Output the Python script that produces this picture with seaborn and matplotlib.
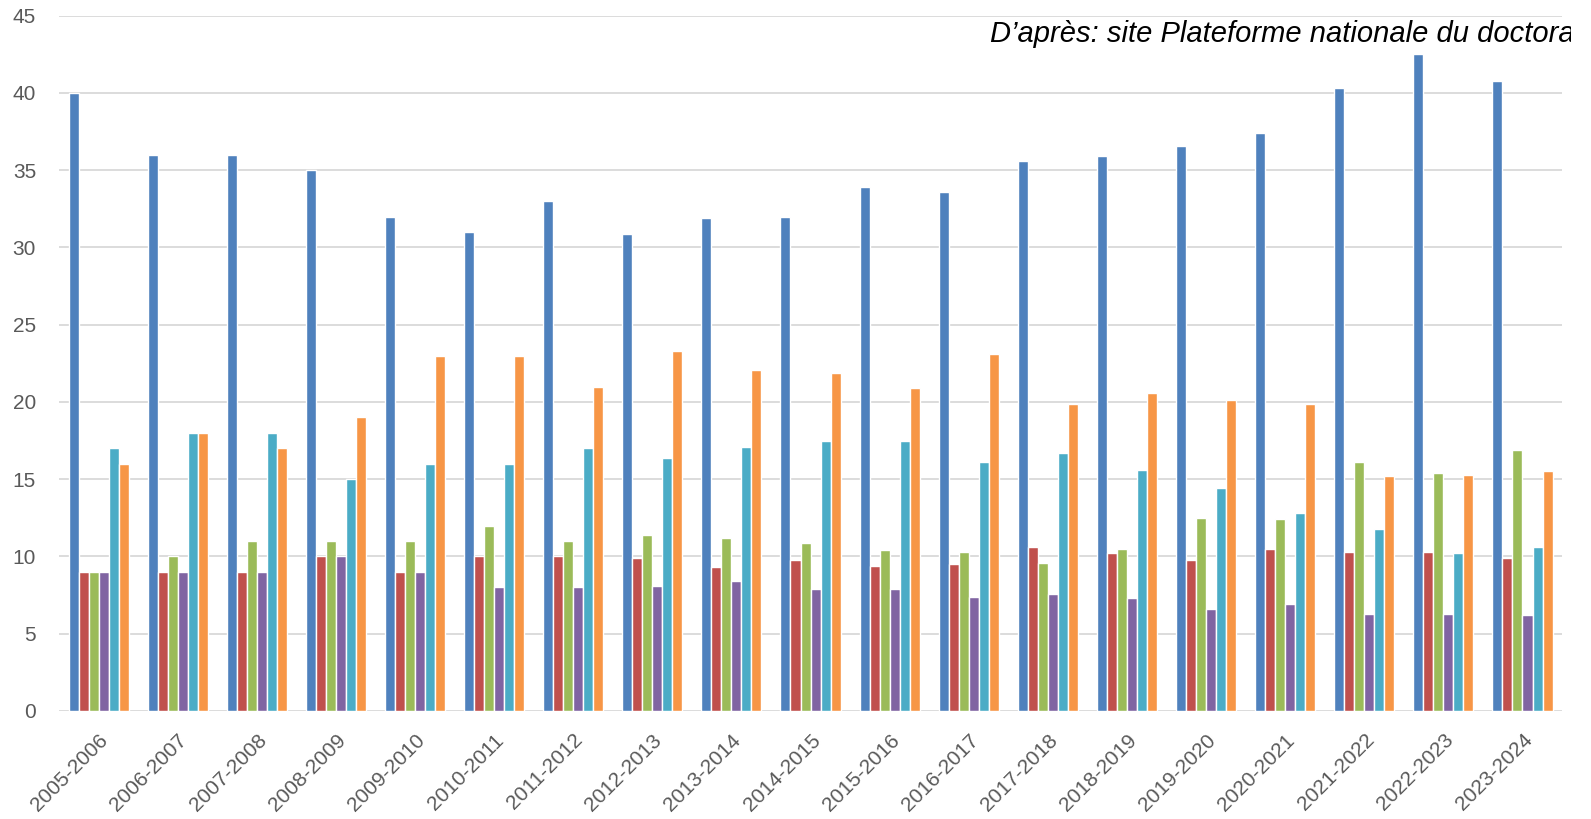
import matplotlib
matplotlib.use("Agg")
import matplotlib.pyplot as plt
from matplotlib.transforms import Bbox
import seaborn as sns
import pandas as pd

# Années universitaires
annees = ["2005-2006", "2006-2007", "2007-2008", "2008-2009", "2009-2010",
          "2010-2011", "2011-2012", "2012-2013", "2013-2014", "2014-2015",
          "2015-2016", "2016-2017", "2017-2018", "2018-2019", "2019-2020",
          "2020-2021", "2021-2022", "2022-2023", "2023-2024"]

serie_1 = [40, 36, 36, 35, 32, 31, 33, 30.9, 31.9, 32, 33.9, 33.6, 35.6, 35.9, 36.6, 37.4, 40.3, 42.5, 40.8]
serie_2 = [9, 9, 9, 10, 9, 10, 10, 9.9, 9.3, 9.8, 9.4, 9.5, 10.6, 10.2, 9.8, 10.5, 10.3, 10.3, 9.9]
serie_3 = [9, 10, 11, 11, 11, 12, 11, 11.4, 11.2, 10.9, 10.4, 10.3, 9.6, 10.5, 12.5, 12.4, 16.1, 15.4, 16.9]
serie_4 = [9, 9, 9, 10, 9, 8, 8, 8.1, 8.4, 7.9, 7.9, 7.4, 7.6, 7.3, 6.6, 6.9, 6.3, 6.3, 6.2]
serie_5 = [17, 18, 18, 15, 16, 16, 17, 16.4, 17.1, 17.5, 17.5, 16.1, 16.7, 15.6, 14.4, 12.8, 11.8, 10.2, 10.6]
serie_6 = [16, 18, 17, 19, 23, 23, 21, 23.3, 22.1, 21.9, 20.9, 23.1, 19.9, 20.6, 20.1, 19.9, 15.2, 15.3, 15.5]

noms_series = ["Série 1", "Série 2", "Série 3", "Série 4", "Série 5", "Série 6"]
couleurs = ["#4F81BD", "#C0504D", "#9BBB59", "#8064A2", "#4BACC6", "#F79646"]

source = "D\u2019après: site Plateforme nationale du doctorat"

# Mise en forme longue pour seaborn
series = [serie_1, serie_2, serie_3, serie_4, serie_5, serie_6]
rows = []
for nom, valeurs in zip(noms_series, series):
    for annee, v in zip(annees, valeurs):
        rows.append({"annee": annee, "valeur": v, "serie": nom})
df = pd.DataFrame(rows)

sns.set_style("white")
plt.rcParams["font.family"] = ["Liberation Sans", "DejaVu Sans"]

fig, ax = plt.subplots(figsize=(15.91, 8.19), dpi=100)
fig.subplots_adjust(left=0.0371, right=0.9818, bottom=0.1319, top=0.9808)

sns.barplot(data=df, x="annee", y="valeur", hue="serie", order=annees,
            hue_order=noms_series, palette=couleurs, saturation=1, width=0.76,
            edgecolor="white", linewidth=1, legend=False, ax=ax)

ax.set_ylim(0, 45)
ax.set_yticks(range(0, 46, 5))
ax.set_xlim(-0.5, len(annees) - 0.5)
ax.yaxis.grid(True, color="#D9D9D9", linewidth=1.3)
ax.set_axisbelow(True)
for s in ax.spines.values():
    s.set_visible(False)
ax.set_xlabel("")
ax.set_ylabel("")
ax.tick_params(axis="y", length=0, pad=16.5, labelsize=15, labelcolor="#595959")
ax.tick_params(axis="x", length=0, pad=14, labelsize=15, labelcolor="#595959")
plt.setp(ax.get_xticklabels(), rotation=45, ha="right", rotation_mode="anchor")

# texte source, coupé au bord droit comme dans l'original
txt = fig.text(990 / 1591, 1 - 41.7 / 819, source, style="italic", fontsize=21,
               color="black", ha="left", va="baseline")
txt.set_clip_box(Bbox.from_extents(0, 0, 1571, 819))
txt.set_clip_on(True)

fig.savefig("out.png", dpi=100)
